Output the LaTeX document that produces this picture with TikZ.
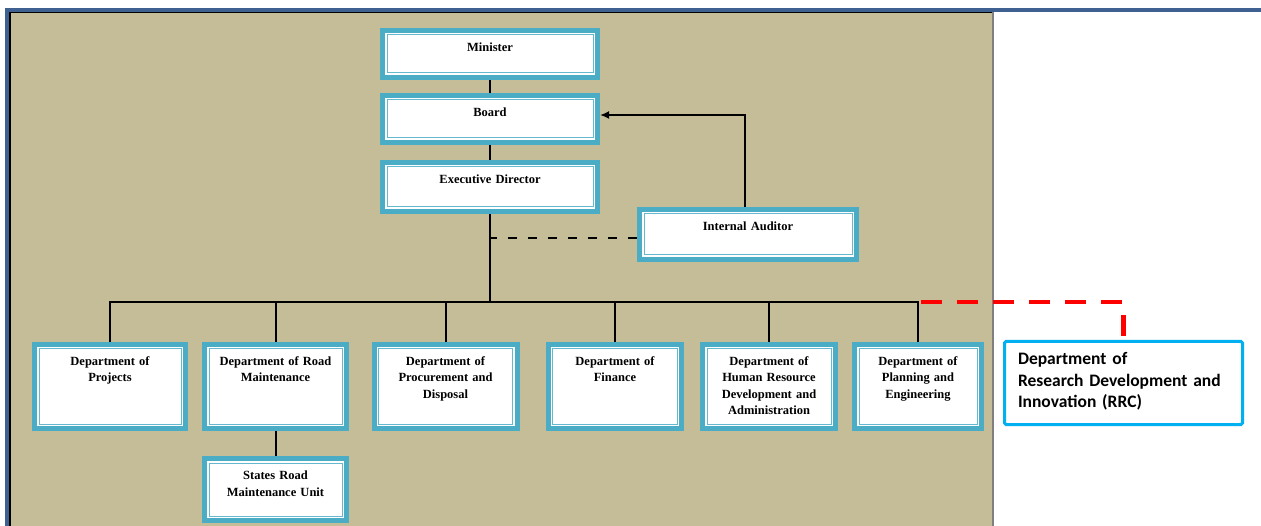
\documentclass[tikz,border=0pt]{standalone}
\usepackage{fontspec}
\setmainfont{Liberation Serif}
\newfontfamily\calibri{Carlito}
\usetikzlibrary{arrows.meta}
\definecolor{boxblue}{RGB}{75,172,198}
\definecolor{rrcblue}{RGB}{0,176,240}
\definecolor{tan}{RGB}{196,189,151}
\definecolor{topblue}{RGB}{62,97,146}
\tikzset{orgbox/.style={draw=boxblue, line width=5pt, fill=white,
  inner xsep=4pt, inner ysep=5pt, text height=16pt, text depth=#1,
  align=center, font=\fontsize{12.5}{16.5}\selectfont\bfseries,
  path picture={\draw[boxblue!85, line width=1pt]
    ([shift={(4.5pt,-4.5pt)}]path picture bounding box.north west) rectangle
    ([shift={(-4.5pt,4.5pt)}]path picture bounding box.south east);}},
  conn/.style={draw=black, line width=2pt},
  rrcbox/.style={draw=rrcblue, line width=3pt, fill=white, rounded corners=1.5pt,
  inner xsep=13.5pt, inner ysep=6pt, text width=211pt, text height=17.5pt,
  text depth=53.5pt, align=left, font=\calibri\fontsize{17.5}{21.5}\selectfont\bfseries}}

\begin{document}
\begin{tikzpicture}[x=1pt,y=-1pt]
	\useasboundingbox (0,0) rectangle (1261,526);
	% background panel
	\fill[tan] (9,12) rectangle (993,526);
	\draw[black, line width=2pt] (10,526) -- (10,12.5) -- (993,12.5);
	\draw[gray, line width=2pt] (993,12) -- (993,526);
	\draw[topblue, line width=3.4pt] (5,10) -- (1261,10);
	\draw[topblue, line width=4pt] (7,8.3) -- (7,526);

	% top of the chart
	\node[orgbox=21pt, text width=207pt] (min) at (490,54) {Minister};
	\node[orgbox=21pt, text width=207pt] (board) at (490,119) {Board};
	\node[orgbox=23pt, text width=207pt] (ed) at (490,187) {Executive Director};
	\node[orgbox=24pt, text width=209pt] (ia) at (748,234.5) {Internal Auditor};

	% departments
	\node[orgbox=58pt, text width=143pt] (proj) at (110,386.5) {Department of\\Projects};
	\node[orgbox=58pt, text width=134pt] (road) at (275.5,386.5) {Department of Road\\Maintenance};
	\node[orgbox=58pt, text width=135pt] (proc) at (445.5,386.5) {Department of\\Procurement and\\Disposal};
	\node[orgbox=58pt, text width=125.5pt] (fin) at (615,386.5) {Department of\\Finance};
	\node[orgbox=58pt, text width=125pt] (hr) at (769,386.5) {Department of\\Human Resource\\Development and\\Administration};
	\node[orgbox=58pt, text width=119pt] (plan) at (918,386.5) {Department of\\Planning and\\Engineering};
	\node[orgbox=36pt, text width=134pt] (srmu) at (275.5,489.5) {States Road\\Maintenance Unit};

	\node[rrcbox] (rrc) at (1123.5,383) {Department of\\Research Development and\\Innovation (RRC)};

	% connectors
	\coordinate (bus) at (490,302);
	\coordinate (rrcstart) at (921,302);
	\draw[conn] (min) -- (board);
	\draw[conn] (board) -- (ed);
	\draw[conn] (ed) -- (bus);
	\foreach \d in {proj,road,proc,fin,hr,plan}
		\draw[conn] (\d.north) |- (bus);
	\draw[conn] (road) -- (srmu);
	\draw[conn, dash pattern=on 9pt off 11pt] (ia.west |- 490,238) -- (490,238);
	\draw[conn, -{Latex[length=9pt,width=8pt]}] ([xshift=-3pt]ia.north) |- ([yshift=4pt]board.east);
	\draw[red, line width=4.5pt, dash pattern=on 21pt off 15pt] (rrcstart) -| (rrc.north);
\end{tikzpicture}
\end{document}
